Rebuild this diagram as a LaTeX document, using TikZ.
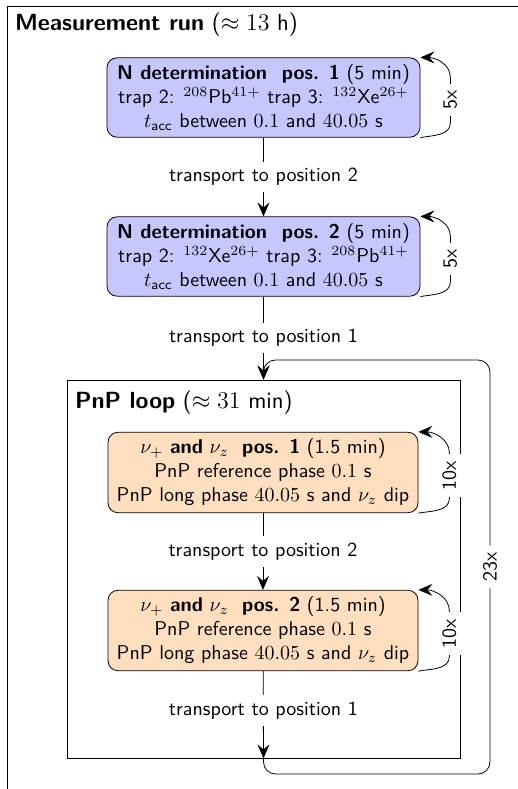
\documentclass[tikz,border=0pt]{standalone}
\usetikzlibrary{arrows.meta}

\begin{document}
\begin{tikzpicture}[x=0.5pt, y=-0.5pt, font=\sffamily, >={Stealth[length=7pt,width=6pt,inset=2.5pt]}]
\useasboundingbox (0,0) rectangle (518,789);
\begin{scope}
	\clip (0,0) rectangle (518,789);
	\draw (7,6) rectangle (540,820);
\end{scope}
\node[anchor=base west, font=\sffamily\fontsize{11.7}{14}\selectfont] (runtitle) at (8,30) {\textbf{Measurement run} ($\approx 13$ h)};
\node[draw, minimum width=196.5pt, minimum height=189pt] (pnp) at (263.5,569) {};
\node[anchor=base west, font=\sffamily\fontsize{11.7}{14}\selectfont] (pnptitle) at (68,408) {\textbf{PnP loop} ($\approx 31$ min)};
\begin{scope}[every node/.style={draw, rounded corners=5pt, align=center, minimum width=156.5pt, minimum height=37.5pt}]
	\node[fill=blue!22] (n1) at (263.5,97.5) {\textbf{N determination \ pos. 1} (5 min)\\trap 2: ${}^{208}$Pb$^{41+}$ trap 3: ${}^{132}$Xe$^{26+}$\\$t_\mathsf{acc}$ between $0.1$ and $40.05$ s};
	\node[fill=blue!22] (n2) at (263.5,256.5) {\textbf{N determination \ pos. 2} (5 min)\\trap 2: ${}^{132}$Xe$^{26+}$ trap 3: ${}^{208}$Pb$^{41+}$\\$t_\mathsf{acc}$ between $0.1$ and $40.05$ s};
	\node[fill=orange!25, minimum width=155pt] (p1) at (263,472.5) {$\nu_+$ \textbf{and} $\nu_z$ \ \textbf{pos. 1} (1.5 min)\\PnP reference phase $0.1$ s\\PnP long phase $40.05$ s and $\nu_z$ dip};
	\node[fill=orange!25, minimum width=155pt] (p2) at (263,630.5) {$\nu_+$ \textbf{and} $\nu_z$ \ \textbf{pos. 2} (1.5 min)\\PnP reference phase $0.1$ s\\PnP long phase $40.05$ s and $\nu_z$ dip};
\end{scope}
\begin{scope}[every node/.style={fill=white}]
	\draw[->] (n1) -- node {transport to position 2} (n2);
	\draw[->] (n2) -- node {transport to position 1} (pnp.north);
	\draw[->] (p1) -- node {transport to position 2} (p2);
	\draw[->] (p2) -- node[pos=0.45] {transport to position 1} (pnp.south);
	\draw[->] (n1.south east) to[out=10,in=-90] ++(30,-15) -- node[rotate=90] {5x} ++(0,-45) to[out=90,in=0] (n1.north east);
	\draw[->] (n2.south east) to[out=10,in=-90] ++(30,-15) -- node[rotate=90] {5x} ++(0,-45) to[out=90,in=0] (n2.north east);
	\draw[->] (p1.south east) to[out=10,in=-90] ++(31,-15) -- node[rotate=90] {10x} ++(0,-45) to[out=90,in=0] (p1.north east);
	\draw[->] (p2.south east) to[out=10,in=-90] ++(31,-15) -- node[rotate=90] {10x} ++(0,-45) to[out=90,in=0] (p2.north east);
	\draw[->, rounded corners=6pt] (pnp.south) |- (490,774) -- node[rotate=90] {23x} (490,360) -| (pnp.north);
\end{scope}
\end{tikzpicture}
\end{document}
